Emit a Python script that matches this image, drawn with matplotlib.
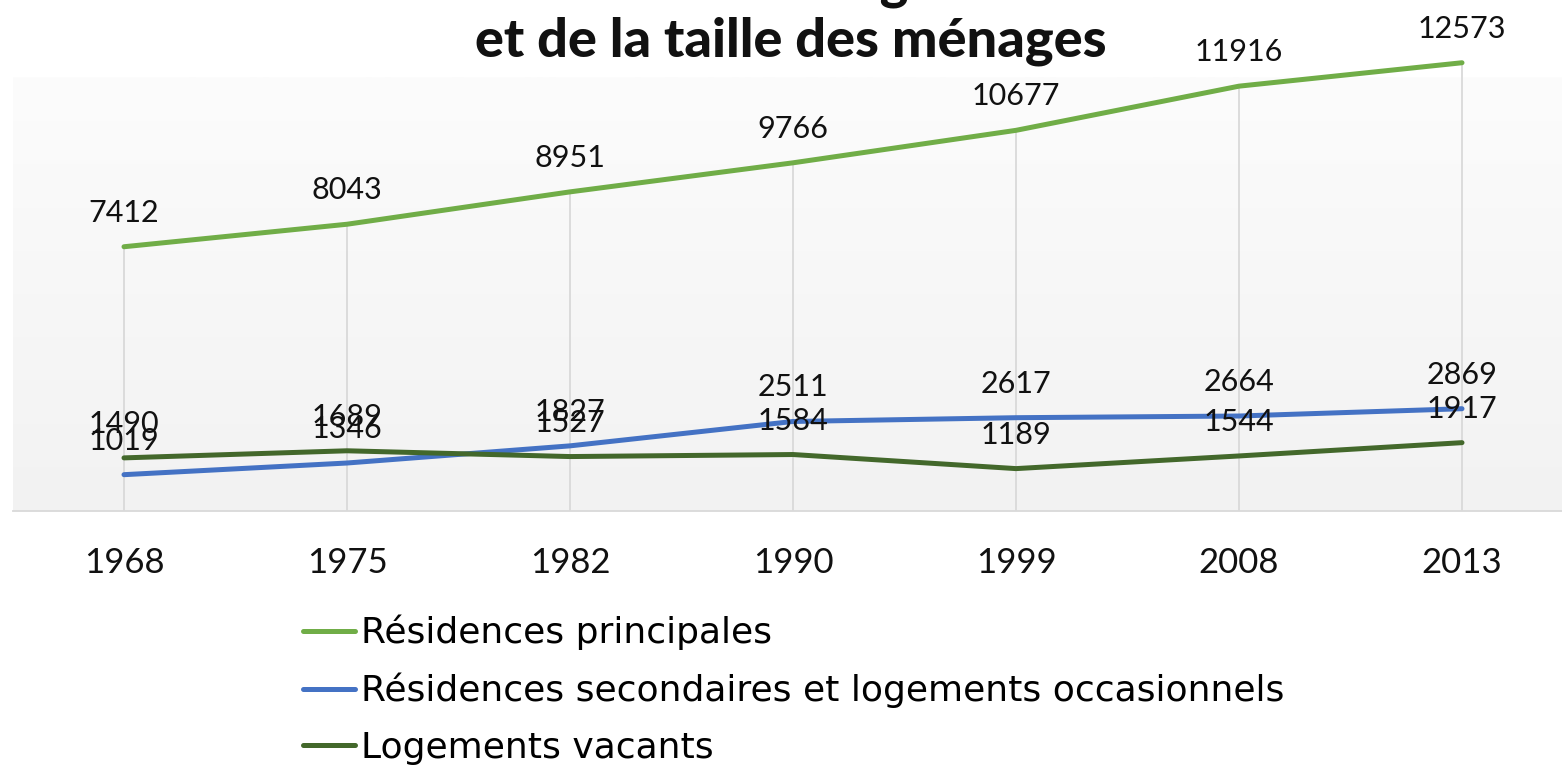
import matplotlib.pyplot as plt
import numpy as np

plt.rcParams["font.family"] = ["Lato", "DejaVu Sans"]

YEARS = ["1968", "1975", "1982", "1990", "1999", "2008", "2013"]
PRINCIPALES = [7412, 8043, 8951, 9766, 10677, 11916, 12573]
SECONDAIRES = [1019, 1346, 1827, 2511, 2617, 2664, 2869]
VACANTS = [1490, 1689, 1527, 1584, 1189, 1544, 1917]

SERIES = [
    ("Résidences principales", PRINCIPALES, "#70AD47"),
    ("Résidences secondaires et logements occasionnels", SECONDAIRES, "#4472C4"),
    ("Logements vacants", VACANTS, "#43682B"),
]

W, H = 1562, 770
fig = plt.figure(figsize=(W / 100, H / 100), dpi=100)
fig.patch.set_facecolor("white")

# plot area in pixels: x 12.5 -> 1573.5, y 77 -> 511
ax = fig.add_axes([12.5 / W, (H - 511) / H, 1561 / W, (511 - 77) / H])
x = np.arange(len(YEARS))
ax.set_xlim(-0.5, len(YEARS) - 0.5)
ax.set_ylim(0, 12173)

# soft vertical gradient behind the plot area
grad = np.linspace(0, 1, 256).reshape(-1, 1)
ax.imshow(grad, extent=[0, 1, 0, 1], transform=ax.transAxes, aspect="auto",
          cmap=plt.matplotlib.colors.LinearSegmentedColormap.from_list(
              "bg", ["#F2F2F2", "#FCFCFC"]), origin="lower", zorder=0)

# drop lines from the top series down to the axis
top = np.max(np.vstack([PRINCIPALES, SECONDAIRES, VACANTS]), axis=0)
ax.vlines(x, 0, top, color="#D9D9D9", lw=1.3, zorder=1, clip_on=False)

handles = []
for name, vals, col in SERIES:
    h, = ax.plot(x, vals, color=col, lw=3.6, solid_capstyle="round",
                 zorder=3, clip_on=False, label=name)
    handles.append(h)
    for xi, v in zip(x, vals):
        ax.annotate(str(v), (xi, v), xytext=(0, 18), textcoords="offset points",
                    ha="center", va="baseline", fontsize=22, color="#111111",
                    zorder=4, annotation_clip=False)

for s in ("top", "right", "left"):
    ax.spines[s].set_visible(False)
ax.spines["bottom"].set_color("#D9D9D9")
ax.spines["bottom"].set_linewidth(1.3)
ax.set_yticks([])
ax.set_xticks(x)
ax.set_xticklabels(YEARS, fontsize=25, color="#111111")
ax.tick_params(axis="x", length=0, pad=26)

fig.text(0.506, 1 + 1 / H, "Évolution des logements", ha="center", va="baseline",
         fontsize=39, fontweight="black", color="#111111")
fig.text(0.506, 1 - 56 / H, "et de la taille des ménages", ha="center", va="baseline",
         fontsize=39, fontweight="black", color="#111111")

fig.legend(handles=handles, loc="upper left", bbox_to_anchor=(303 / W, 1 - 615 / H),
           frameon=False, prop={"family": "DejaVu Sans", "size": 26},
           handlelength=1.45, handletextpad=0.15,
           labelspacing=0.62, borderaxespad=0, borderpad=0)

fig.savefig("out.png", dpi=100)
